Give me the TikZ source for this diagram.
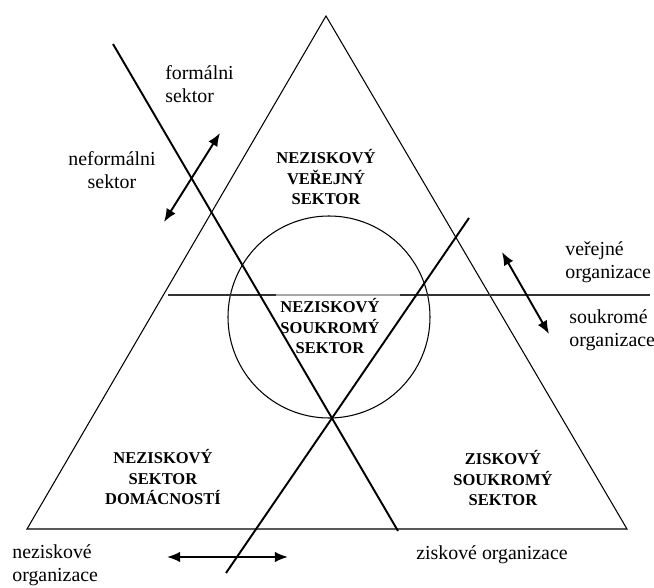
\documentclass[tikz,border=0pt]{standalone}
\usepackage{fontspec}
\setmainfont{Liberation Serif}
\usetikzlibrary{arrows.meta}

\begin{document}
\begin{tikzpicture}[x=0.02cm, y=-0.02cm, >={Latex[length=7.5pt, width=6pt]},
    thinline/.style={line width=0.6pt},
    divider/.style={line width=1.1pt},
    dblarrow/.style={<->, line width=1.1pt},
    label/.style={inner sep=0pt, align=center, font=\fontsize{11.3}{12.8}\selectfont},
    sector/.style={inner sep=0pt, align=center, font=\fontsize{9.4}{11.7}\selectfont\bfseries}]
    \useasboundingbox (0,0) rectangle (654,588);

    % Triangle
    \coordinate (top) at (326,16);
    \coordinate (bl) at (27,529);
    \coordinate (br) at (627,529);
    \draw[thinline] (top) -- (bl) -- (br) -- cycle;

    % Circle
    \coordinate (mid) at (329,317);
    \draw[thinline] (mid) circle (101);

    % Dividing lines
    \coordinate (hl) at (168,295);
    \coordinate (hm1) at (276,295);
    \coordinate (hm2) at (400,295);
    \coordinate (hr) at (650,295);
    \draw[divider, black!80] (hl) -- (hm1);
    \draw[divider, black!35] (hm1) -- (hm2);
    \draw[divider, black!80] (hm2) -- (hr);

    \coordinate (fa) at (113,44);
    \coordinate (fb) at (398,531);
    \draw[divider] (fa) -- (fb);

    \coordinate (pa) at (469,218);
    \coordinate (pb) at (226,573);
    \draw[divider] (pa) -- (pb);

    % Sectors
    \node[sector] (verejny) at (326,177) {NEZISKOVÝ\\VEŘEJNÝ\\SEKTOR};
    \node[sector] (soukromy) at (330,326) {NEZISKOVÝ\\SOUKROMÝ\\SEKTOR};
    \node[sector] (domacnosti) at (163,477) {NEZISKOVÝ\\SEKTOR\\DOMÁCNOSTÍ};
    \node[sector] (ziskovy) at (503,478) {ZISKOVÝ\\SOUKROMÝ\\SEKTOR};

    % Formal / informal
    \node[label, anchor=west, align=left] (formal) at (165,84) {formálni\\sektor};
    \node[label] (neformal) at (112,170) {neformálni\\sektor};
    \coordinate (f1) at (164,222);
    \coordinate (f2) at (220,133);
    \draw[dblarrow] (f1) -- (f2);

    % Public / private
    \node[label, anchor=west, align=left] (verejne) at (565,262) {veřejné\\organizace};
    \node[label, anchor=west, align=left] (soukrome) at (569,330) {soukromé\\organizace};
    \coordinate (s1) at (502,252);
    \coordinate (s2) at (549,334);
    \draw[dblarrow] (s1) -- (s2);

    % Nonprofit / profit
    \node[label, anchor=west, align=left] (neziskove) at (12,565) {neziskové\\organizace};
    \node[label] (ziskove) at (492,555) {ziskové organizace};
    \coordinate (z1) at (167,557);
    \coordinate (z2) at (288,557);
    \draw[dblarrow] (z1) -- (z2);
\end{tikzpicture}
\end{document}
